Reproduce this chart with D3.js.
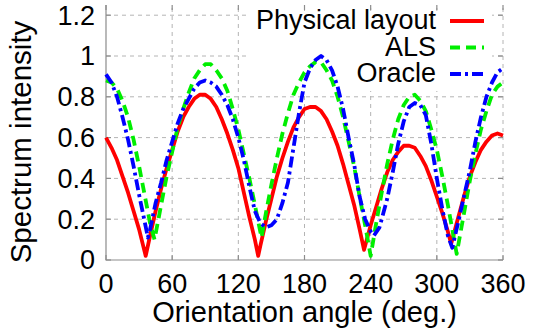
<!DOCTYPE html>
<html>
<head>
<meta charset="utf-8">
<script src="https://cdn.jsdelivr.net/npm/d3@7"></script>
<style>
  body { margin: 0; background: #fff; }
  svg { display: block; font-family: "Liberation Sans", Arial, sans-serif; }
</style>
</head>
<body>
<script>
"use strict";

// angle samples (deg.) and spectrum values for each method
var physAngles = [0, 5, 10, 15, 20, 25, 30, 36, 40, 45, 50, 55, 60, 65, 70, 75, 80, 85, 90, 95,
  100, 105, 110, 115, 120, 125, 130, 135, 138, 140, 145, 150, 155, 160, 165, 170, 175, 180, 185,
  190, 195, 200, 205, 210, 215, 220, 225, 230, 234, 240, 245, 250, 255, 260, 265, 270, 275, 280,
  285, 290, 295, 300, 305, 310, 313, 320, 325, 330, 335, 340, 345, 350, 355, 360];
var physValues = [0.60, 0.55, 0.49, 0.41, 0.33, 0.24, 0.15, 0.02, 0.12, 0.24, 0.35, 0.45, 0.54, 0.63, 0.70, 0.75, 0.79, 0.81, 0.81, 0.79,
  0.75, 0.69, 0.62, 0.54, 0.45, 0.33, 0.21, 0.10, 0.02, 0.07, 0.19, 0.30, 0.41, 0.50, 0.58, 0.65, 0.70, 0.74, 0.75,
  0.75, 0.73, 0.69, 0.63, 0.56, 0.47, 0.37, 0.27, 0.15, 0.05, 0.17, 0.26, 0.35, 0.43, 0.49, 0.53, 0.56, 0.56, 0.55,
  0.51, 0.46, 0.39, 0.31, 0.23, 0.14, 0.08, 0.22, 0.32, 0.41, 0.48, 0.54, 0.58, 0.61, 0.62, 0.61];

var alsAngles = [0, 5, 10, 15, 20, 25, 30, 35, 40, 44, 50, 55, 60, 65, 70, 75, 80, 85, 90, 95,
  100, 105, 110, 115, 120, 125, 130, 135, 141, 145, 150, 155, 160, 165, 170, 175, 180, 185, 190,
  195, 200, 205, 210, 215, 220, 225, 230, 235, 240, 245, 250, 255, 260, 265, 270, 275, 280, 285,
  290, 295, 300, 305, 310, 315, 318, 320, 325, 330, 335, 340, 345, 350, 355, 360];
var alsValues = [0.88, 0.87, 0.84, 0.78, 0.70, 0.59, 0.46, 0.32, 0.18, 0.10, 0.27, 0.41, 0.53, 0.65, 0.74, 0.82, 0.89, 0.93, 0.96, 0.96,
  0.93, 0.89, 0.83, 0.74, 0.64, 0.52, 0.40, 0.27, 0.11, 0.23, 0.37, 0.50, 0.62, 0.72, 0.81, 0.87, 0.92, 0.95, 0.97,
  0.97, 0.93, 0.88, 0.80, 0.70, 0.58, 0.46, 0.31, 0.17, 0.02, 0.18, 0.33, 0.47, 0.59, 0.69, 0.76, 0.80, 0.81, 0.78,
  0.73, 0.64, 0.54, 0.41, 0.27, 0.12, 0.03, 0.09, 0.24, 0.39, 0.52, 0.64, 0.73, 0.81, 0.85, 0.87];

var oracleAngles = [0, 5, 10, 15, 20, 25, 30, 35, 38, 40, 45, 50, 55, 60, 65, 70, 75, 80, 85, 90,
  95, 100, 105, 110, 115, 120, 125, 130, 135, 140, 145, 150, 155, 160, 165, 170, 175, 180, 185,
  190, 195, 200, 205, 210, 215, 220, 225, 230, 235, 240, 243, 248, 255, 260, 265, 270, 275, 280,
  285, 290, 295, 300, 305, 310, 314, 320, 325, 330, 335, 340, 345, 350, 355, 360];
var oracleValues = [0.91, 0.87, 0.80, 0.70, 0.59, 0.46, 0.32, 0.19, 0.11, 0.15, 0.28, 0.38, 0.49, 0.58, 0.67, 0.74, 0.79, 0.84, 0.87, 0.88,
  0.87, 0.85, 0.81, 0.76, 0.69, 0.60, 0.49, 0.36, 0.24, 0.18, 0.16, 0.17, 0.20, 0.28, 0.38, 0.55, 0.72, 0.87, 0.94,
  0.98, 1.00, 0.98, 0.93, 0.85, 0.74, 0.60, 0.47, 0.31, 0.20, 0.14, 0.12, 0.16, 0.30, 0.43, 0.57, 0.68, 0.75, 0.77,
  0.76, 0.71, 0.57, 0.40, 0.25, 0.12, 0.06, 0.20, 0.32, 0.44, 0.58, 0.70, 0.80, 0.87, 0.92, 0.94];

var xTicks = [0, 60, 120, 180, 240, 300, 360];
var yTicks = [0, 0.2, 0.4, 0.6, 0.8, 1, 1.2];

var seriesNames = ["Physical layout", "ALS", "Oracle"];

function init() {
  var w = 534;
  var h = 335;

  var xScale = d3.scaleLinear().domain([0, 360]).range([106, 503]);
  var yScale = d3.scaleLinear().domain([0, 1.25]).range([260, 5]);

  var series = [
    { name: seriesNames[0], angles: physAngles, values: physValues, color: "#ff0000", dash: null },
    { name: seriesNames[1], angles: alsAngles, values: alsValues, color: "#00ee00", dash: "10,6" },
    { name: seriesNames[2], angles: oracleAngles, values: oracleValues, color: "#0000ff", dash: "11,4,3,4" }
  ];

  var svg = d3.select("body")
    .append("svg")
    .attr("width", w)
    .attr("height", h);

  // dashed grid
  var grid = svg.append("g")
    .attr("stroke", "#b4b4b4")
    .attr("stroke-width", 1)
    .attr("stroke-dasharray", "4,4");

  grid.selectAll("line.gx")
    .data(xTicks.slice(1))
    .enter()
    .append("line")
    .attr("x1", function (d) { return xScale(d); })
    .attr("x2", function (d) { return xScale(d); })
    .attr("y1", yScale(0))
    .attr("y2", yScale(1.25));

  grid.selectAll("line.gy")
    .data(yTicks.slice(1))
    .enter()
    .append("line")
    .attr("x1", xScale(0))
    .attr("x2", xScale(360))
    .attr("y1", function (d) { return yScale(d); })
    .attr("y2", function (d) { return yScale(d); });

  // key background hides the grid, curves are drawn over it
  svg.append("rect")
    .attr("x", 250)
    .attr("y", 11)
    .attr("width", 242)
    .attr("height", 80)
    .attr("fill", "#fff");

  // left and bottom border
  svg.append("path")
    .attr("d", "M" + xScale(0) + "," + yScale(1.25) + "V" + yScale(0) + "H" + xScale(360))
    .attr("fill", "none")
    .attr("stroke", "#8c8c8c")
    .attr("stroke-width", 1.2);

  // inward ticks, mirrored on top and right
  var ticks = svg.append("g").attr("stroke", "#8c8c8c").attr("stroke-width", 1.2);
  xTicks.forEach(function (d) {
    ticks.append("line")
      .attr("x1", xScale(d)).attr("x2", xScale(d))
      .attr("y1", yScale(0)).attr("y2", yScale(0) - 5);
    ticks.append("line")
      .attr("x1", xScale(d)).attr("x2", xScale(d))
      .attr("y1", yScale(1.25)).attr("y2", yScale(1.25) + 5);
  });
  yTicks.forEach(function (d) {
    ticks.append("line")
      .attr("x1", xScale(0)).attr("x2", xScale(0) + 5)
      .attr("y1", yScale(d)).attr("y2", yScale(d));
    ticks.append("line")
      .attr("x1", xScale(360)).attr("x2", xScale(360) - 5)
      .attr("y1", yScale(d)).attr("y2", yScale(d));
  });

  // tick labels
  svg.selectAll("text.ytick")
    .data(yTicks)
    .enter()
    .append("text")
    .attr("class", "ytick")
    .attr("x", 95)
    .attr("y", function (d) { return yScale(d); })
    .attr("dy", "0.35em")
    .attr("text-anchor", "end")
    .attr("font-size", "27px")
    .text(function (d) { return d; });

  svg.selectAll("text.xtick")
    .data(xTicks)
    .enter()
    .append("text")
    .attr("class", "xtick")
    .attr("x", function (d) { return xScale(d); })
    .attr("y", 293)
    .attr("text-anchor", "middle")
    .attr("font-size", "27px")
    .text(function (d) { return d; });

  // axis titles
  svg.append("text")
    .attr("x", (xScale(0) + xScale(360)) / 2)
    .attr("y", 322)
    .attr("text-anchor", "middle")
    .attr("font-size", "29px")
    .text("Orientation angle (deg.)");

  svg.append("text")
    .attr("transform", "translate(31,142) rotate(-90)")
    .attr("text-anchor", "middle")
    .attr("font-size", "29.5px")
    .text("Spectrum intensity");

  // curves
  var line = d3.line()
    .x(function (d) { return xScale(d[0]); })
    .y(function (d) { return yScale(d[1]); });

  svg.selectAll("path.curve")
    .data(series)
    .enter()
    .append("path")
    .attr("class", "curve")
    .attr("d", function (s) {
      return line(s.angles.map(function (a, i) { return [a, s.values[i]]; }));
    })
    .attr("fill", "none")
    .attr("stroke", function (s) { return s.color; })
    .attr("stroke-width", 3.8)
    .attr("stroke-linejoin", "round")
    .attr("stroke-dasharray", function (s) { return s.dash; });

  // key
  var key = svg.selectAll("g.key")
    .data(series)
    .enter()
    .append("g")
    .attr("class", "key")
    .attr("transform", function (d, i) { return "translate(0," + (29 + i * 26.5) + ")"; });

  key.append("text")
    .attr("x", 436)
    .attr("text-anchor", "end")
    .attr("font-size", "27px")
    .text(function (d) { return d.name; });

  key.append("line")
    .attr("x1", 450)
    .attr("x2", 484)
    .attr("y1", -8)
    .attr("y2", -8)
    .attr("stroke", function (d) { return d.color; })
    .attr("stroke-width", 3.8)
    .attr("stroke-dasharray", function (d) { return d.dash; });
}

window.onload = init;
</script>
</body>
</html>
